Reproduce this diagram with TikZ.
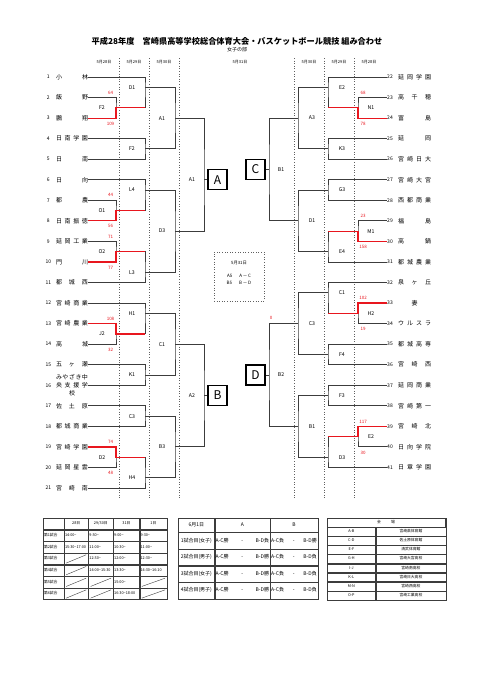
\documentclass[tikz,border=0pt]{standalone}
\usepackage{fontspec}
\setmainfont{Noto Sans CJK JP}
\usetikzlibrary{positioning,matrix}

\definecolor{bracket}{HTML}{3C3C3C}
\definecolor{winred}{HTML}{E8161E}
\definecolor{guidegray}{HTML}{606060}

% spread the characters of a school name over its box
\newcommand\spreadname[1]{\expandafter\spreadchars#1\relax}
\def\spreadchars#1#2{#1\ifx\relax#2\else\hfill\expandafter\spreadchars\expandafter#2\fi}
\newcommand\tld{\textasciitilde}
\newcommand\gm[3]{\makebox[#1]{A-C#2\hfill-\hfill B-D#3}}

\begin{document}
\begin{tikzpicture}[
    x=1pt, y=-1pt,
    link/.style={draw=bracket, line width=0.9pt},
    win/.style={draw=winred, line width=1.2pt},
    guide/.style={draw=guidegray, dotted, line width=0.6pt},
    frame/.style={draw=bracket, line width=0.8pt},
    team/.style={inner sep=0pt, font=\fontsize{6}{7}\selectfont},
    num/.style={inner sep=0pt, font=\fontsize{5}{6}\selectfont},
    lbl/.style={inner sep=0pt, font=\fontsize{5.2}{6}\selectfont},
    score/.style={inner sep=0pt, text=winred, font=\fontsize{4.5}{5}\selectfont},
    day/.style={inner sep=0pt, font=\fontsize{4}{5}\selectfont},
    grp/.style={draw=black, line width=1.3pt, minimum width=19pt,
        minimum height=20pt, inner sep=0pt, font=\fontsize{12}{13}\selectfont},
    cell/.style={draw=bracket, line width=0.4pt, inner sep=0.8pt, outer sep=0pt,
        align=left, text height=2.9pt, text depth=0.9pt,
        font=\fontsize{3.8}{4.2}\selectfont},
    diag/.style={path picture={\draw[line width=0.4pt]
        ([shift={(2pt,1.5pt)}]path picture bounding box.south west) --
        ([shift={(-2pt,-1.5pt)}]path picture bounding box.north east);}},
    tbl/.style={matrix of nodes, nodes in empty cells, inner sep=0pt,
        outer sep=0pt, column sep=0pt, row sep=0pt, nodes={cell}}
]
\useasboundingbox (0,0) rectangle (481,680);

% ---------------- TITLE ----------------
\node[inner sep=0pt, font=\bfseries\fontsize{8.2}{10}\selectfont] (title) at (237,41)
    {平成28年度　宮崎県高等学校総合体育大会・バスケットボール競技 組み合わせ};
\node[inner sep=0pt, font=\fontsize{5}{6}\selectfont] (sub) at (237,49.5) {女子の部};

\foreach \dx/\dt [count=\i] in {104/5月28日, 134/5月29日, 164/5月30日, 240/5月31日,
    309/5月30日, 339/5月29日, 369/5月28日}
    \node[day] (day\i) at (\dx,62) {\dt};

\foreach \gx in {119,149,179,294,324,354}
    \draw[guide] (\gx,58) -- (\gx,498);

% ---------------- TEAMS ----------------
\foreach \k/\nm in {1/小林,2/飯野,3/鵬翔,4/日南学園,5/日南,6/日向,7/都農,8/日南振徳,
    9/延岡工業,10/門川,11/都城西,12/宮崎商業,13/宮崎農業,14/高城,15/五ヶ瀬,
    16/央支援学,17/佐土原,18/都城商業,19/宮崎学園,20/延岡星雲,21/宮崎南}{
    \pgfmathsetmacro\yy{77+(\k-1)*20.55}
    \node[num] (n\k) at (48.3,\yy) {\k};
    \node[team] (t\k) at (72,\yy) {\makebox[32pt]{\spreadname{\nm}}};
}
\node[team] (t16a) at (72,377) {\makebox[32pt]{\spreadname{みやざき中}}};
\node[team] (t16c) at (72,393) {校};

\foreach \k/\nm in {22/延岡学園,23/高千穂,24/富島,25/延岡,26/宮崎日大,27/宮崎大宮,
    28/西都商業,29/福島,30/高鍋,31/都城農業,32/泉ヶ丘,33/妻,34/ウルスラ,
    35/都城高専,36/宮崎西,37/延岡商業,38/宮崎第一,39/宮崎北,40/日向学院,41/日章学園}{
    \pgfmathsetmacro\yy{77+(\k-22)*20.55}
    \node[num] (n\k) at (390,\yy) {\k};
    \node[team] (t\k) at (414.5,\yy) {\makebox[33pt]{\spreadname{\nm}}};
}

% ---------------- LEFT BRACKET ----------------
\coordinate (F2a) at (116,107.8);
\coordinate (D1a) at (145,87.3);
\coordinate (F2b) at (145,148.9);
\coordinate (A1a) at (175,118.1);
\coordinate (O1) at (116,210.6);
\coordinate (L4) at (145,190.0);
\coordinate (O2) at (116,251.7);
\coordinate (L3) at (145,272.2);
\coordinate (D3a) at (175,231.1);
\coordinate (A1b) at (204,179.8);
\coordinate (J2) at (116,333.9);
\coordinate (H1) at (145,313.3);
\coordinate (K1) at (145,375.0);
\coordinate (C1a) at (175,344.2);
\coordinate (C3a) at (145,416.1);
\coordinate (D2) at (116,457.2);
\coordinate (H4) at (145,477.7);
\coordinate (B3) at (175,446.9);
\coordinate (A2) at (204,395.5);

\node[grp] (grpA) at (217.5,179.8) {A};
\node[grp] (grpB) at (217.5,395.5) {B};

\draw[link] (t2.east) -| (F2a) |- (t3.east);
\draw[link] (t1.east) -| (D1a) |- (F2a);
\draw[link] (t4.east) -| (F2b) |- (t5.east);
\draw[link] (D1a) -| (A1a) |- (F2b);
\draw[link] (t7.east) -| (O1) |- (t8.east);
\draw[link] (t6.east) -| (L4) |- (O1);
\draw[link] (t9.east) -| (O2) |- (t10.east);
\draw[link] (O2) -| (L3) |- (t11.east);
\draw[link] (L4) -| (D3a) |- (L3);
\draw[link] (A1a) -| (A1b) |- (D3a);
\draw[link] (A1b) -- (grpA);
\draw[link] (t13.east) -| (J2) |- (t14.east);
\draw[link] (t12.east) -| (H1) |- (J2);
\draw[link] (t15.east) -| (K1) |- (t16.east);
\draw[link] (H1) -| (C1a) |- (K1);
\draw[link] (t17.east) -| (C3a) |- (t18.east);
\draw[link] (t19.east) -| (D2) |- (t20.east);
\draw[link] (D2) -| (H4) |- (t21.east);
\draw[link] (C3a) -| (B3) |- (H4);
\draw[link] (C1a) -| (A2) |- (B3);
\draw[link] (A2) -- (grpB);

\draw[win] (t3.east) -| (F2a) -- (F2a -| D1a);
\draw[win] (t8.east) -| (O1) -- (O1 -| L4);
\draw[win] (t10.east) -| (O2) -- (O2 -| L3);
\draw[win] (t13.east) -| (J2) -- (J2 -| H1);
\draw[win] (t19.east) -| (D2) -- (D2 -| H4);

\node[lbl] (lF2a) at ([xshift=-14pt]F2a) {F2};
\node[lbl] (lO1) at ([xshift=-14pt]O1) {O1};
\node[lbl] (lO2) at ([xshift=-14pt]O2) {O2};
\node[lbl] (lJ2) at ([xshift=-14pt]J2) {J2};
\node[lbl] (lD2) at ([xshift=-14pt]D2) {D2};
\node[lbl] (lD1a) at ([xshift=-13pt]D1a) {D1};
\node[lbl] (lF2b) at ([xshift=-13pt]F2b) {F2};
\node[lbl] (lL4) at ([xshift=-13pt]L4) {L4};
\node[lbl] (lL3) at ([xshift=-13pt]L3) {L3};
\node[lbl] (lH1) at ([xshift=-13pt]H1) {H1};
\node[lbl] (lK1) at ([xshift=-13pt]K1) {K1};
\node[lbl] (lC3a) at ([xshift=-13pt]C3a) {C3};
\node[lbl] (lH4) at ([xshift=-13pt]H4) {H4};
\node[lbl] (lA1a) at ([xshift=-13pt]A1a) {A1};
\node[lbl] (lD3a) at ([xshift=-13pt]D3a) {D3};
\node[lbl] (lC1a) at ([xshift=-13pt]C1a) {C1};
\node[lbl] (lB3) at ([xshift=-13pt]B3) {B3};
\node[lbl] (lA1b) at ([xshift=-12pt]A1b) {A1};
\node[lbl] (lA2) at ([xshift=-12pt]A2) {A2};

\node[score] (s2) at (110.5,92.5) {64};
\node[score] (s3) at (110.5,123.6) {109};
\node[score] (s7) at (110.5,195.3) {44};
\node[score] (s8) at (110.5,226.3) {56};
\node[score] (s9) at (110.5,236.4) {71};
\node[score] (s10) at (110.5,267.4) {77};
\node[score] (s13) at (110.5,318.6) {108};
\node[score] (s14) at (110.5,349.6) {32};
\node[score] (s19) at (110.5,441.9) {74};
\node[score] (s20) at (110.5,472.9) {48};

% ---------------- RIGHT BRACKET ----------------
\coordinate (N1) at (358,107.8);
\coordinate (E2a) at (328,87.3);
\coordinate (K3) at (328,148.9);
\coordinate (A3) at (298,118.1);
\coordinate (B1a) at (269,169.5);
\coordinate (G3) at (328,190.0);
\coordinate (M1) at (358,231.1);
\coordinate (E4) at (328,251.7);
\coordinate (D1b) at (298,220.9);
\coordinate (H2) at (358,313.3);
\coordinate (C1b) at (328,292.8);
\coordinate (F4) at (328,354.4);
\coordinate (C3b) at (298,323.6);
\coordinate (B2) at (269,375.0);
\coordinate (F3) at (328,395.5);
\coordinate (E2b) at (358,436.6);
\coordinate (D3b) at (328,457.2);
\coordinate (B1b) at (298,426.4);

\node[grp] (grpC) at (255.5,169.5) {C};
\node[grp] (grpD) at (255.5,375.0) {D};

\draw[link] (n23.west) -| (N1) |- (n24.west);
\draw[link] (n22.west) -| (E2a) |- (N1);
\draw[link] (n25.west) -| (K3) |- (n26.west);
\draw[link] (E2a) -| (A3) |- (K3);
\draw[link] (n27.west) -| (G3) |- (n28.west);
\draw[link] (n29.west) -| (M1) |- (n30.west);
\draw[link] (M1) -| (E4) |- (n31.west);
\draw[link] (G3) -| (D1b) |- (E4);
\draw[link] (A3) -| (B1a) |- (D1b);
\draw[link] (B1a) -- (grpC);
\draw[link] (n33.west) -| (H2) |- (n34.west);
\draw[link] (n32.west) -| (C1b) |- (H2);
\draw[link] (n35.west) -| (F4) |- (n36.west);
\draw[link] (C1b) -| (C3b) |- (F4);
\draw[link] (n37.west) -| (F3) |- (n38.west);
\draw[link] (n39.west) -| (E2b) |- (n40.west);
\draw[link] (E2b) -| (D3b) |- (n41.west);
\draw[link] (F3) -| (B1b) |- (D3b);
\draw[link] (C3b) -| (B2) |- (B1b);
\draw[link] (B2) -- (grpD);

\draw[win] (n24.west) -| (N1) -- (N1 -| E2a);
\draw[win] (n30.west) -| (M1) -- (M1 -| E4);
\draw[win] (n33.west) -| (H2) -- (H2 -| C1b);
\draw[win] (n39.west) -| (E2b) -- (E2b -| D3b);

\node[lbl] (lN1) at ([xshift=13pt]N1) {N1};
\node[lbl] (lM1) at ([xshift=13pt]M1) {M1};
\node[lbl] (lH2) at ([xshift=13pt]H2) {H2};
\node[lbl] (lE2b) at ([xshift=13pt]E2b) {E2};
\node[lbl] (lE2a) at ([xshift=14pt]E2a) {E2};
\node[lbl] (lK3) at ([xshift=14pt]K3) {K3};
\node[lbl] (lG3) at ([xshift=14pt]G3) {G3};
\node[lbl] (lE4) at ([xshift=14pt]E4) {E4};
\node[lbl] (lC1b) at ([xshift=14pt]C1b) {C1};
\node[lbl] (lF4) at ([xshift=14pt]F4) {F4};
\node[lbl] (lF3) at ([xshift=14pt]F3) {F3};
\node[lbl] (lD3b) at ([xshift=14pt]D3b) {D3};
\node[lbl] (lA3) at ([xshift=14pt]A3) {A3};
\node[lbl] (lD1b) at ([xshift=14pt]D1b) {D1};
\node[lbl] (lC3b) at ([xshift=14pt]C3b) {C3};
\node[lbl] (lB1b) at ([xshift=14pt]B1b) {B1};
\node[lbl] (lB1a) at ([xshift=12pt]B1a) {B1};
\node[lbl] (lB2) at ([xshift=12pt]B2) {B2};

\node[score] (s23) at (363,92.5) {68};
\node[score] (s24) at (363,123.6) {78};
\node[score] (s29) at (363,215.9) {23};
\node[score] (s30) at (363,246.9) {158};
\node[score] (s33) at (363,298) {102};
\node[score] (s34) at (363,329.1) {19};
\node[score] (s39) at (363,421.4) {117};
\node[score] (s40) at (363,452.4) {30};
\node[score] (sD) at (271,318) {0};

% ---------------- FINAL DAY ----------------
\node[draw=guidegray, dotted, line width=0.6pt, minimum width=50pt,
    minimum height=49pt] (final) at (239,276.5) {};
\node[day, font=\fontsize{4.3}{5}\selectfont] (fday) at (239,262.5) {5月31日};
\node[day, align=center, font=\fontsize{4.5}{7}\selectfont] (fgames) at (239,279.3)
    {A5\hspace{7pt}A\,－\,C\\B5\hspace{7pt}B\,－\,D};

% ---------------- TABLES ----------------
\matrix (times) [tbl, anchor=north west,
    nodes={minimum height=11.29pt},
    column 1/.style={nodes={text width=19pt}},
    column 2/.style={nodes={text width=22.4pt}},
    column 3/.style={nodes={text width=22.8pt}},
    column 4/.style={nodes={text width=24.4pt}},
    column 5/.style={nodes={text width=25.7pt}},
    row 1/.style={nodes={align=center}}] at (43,518) {
      & 28日 & 29/30日 & 31日 & 1日 \\
    第1試合 & 14:00\tld & 9:30\tld & 9:00\tld & 9:30\tld \\
    第2試合 & 15:30\tld 17:00 & 11:00\tld & 10:30\tld & 11:00\tld \\
    第3試合 & |[diag]| & 12:30\tld & 12:00\tld & 12:30\tld \\
    第4試合 & |[diag]| & 14:00\tld 15:30 & 13:30\tld & 14:30\tld 16:10 \\
    第5試合 & |[diag]| & |[diag]| & 15:00\tld & |[diag]| \\
    第6試合 & |[diag]| & |[diag]| & 16:30\tld 18:00 & |[diag]| \\
};
\draw[frame] (times.north west) rectangle (times.south east);

\matrix (games) [tbl, anchor=north west,
    nodes={minimum height=16.25pt, text height=3.7pt, text depth=1.1pt,
        font=\fontsize{5}{6}\selectfont},
    column 1/.style={nodes={text width=34.7pt, align=center}},
    column 2/.style={nodes={text width=53.4pt}},
    column 3/.style={nodes={text width=45.8pt}},
    row 1/.style={nodes={minimum height=14pt, align=center}}] at (178,518) {
    6月1日 & A & B \\
    1試合目(女子) & \gm{53.4pt}{勝}{負} & \gm{45.8pt}{負}{勝} \\
    2試合目(男子) & \gm{53.4pt}{勝}{勝} & \gm{45.8pt}{負}{負} \\
    3試合目(女子) & \gm{53.4pt}{勝}{勝} & \gm{45.8pt}{負}{負} \\
    4試合目(男子) & \gm{53.4pt}{勝}{勝} & \gm{45.8pt}{負}{負} \\
};
\draw[frame] (games.north west) rectangle (games.south east);

\node[cell, text width=116.4pt, align=center, minimum height=8.78pt,
    anchor=north west] (venhead) at (327,518) {会\hspace{10pt}場};
\matrix (venue) [tbl, anchor=north west,
    nodes={minimum height=8.78pt, align=center},
    column 1/.style={nodes={text width=46.7pt}},
    column 2/.style={nodes={text width=68.4pt}}] at (venhead.south west) {
    A-B & 宮崎県体育館 \\
    C-D & 佐土原体育館 \\
    E-F & 清武体育館 \\
    G-H & 宮崎大宮高校 \\
    I-J & 宮崎南高校 \\
    K-L & 宮崎日大高校 \\
    M-N & 宮崎西高校 \\
    O-P & 宮崎工業高校 \\
};
\draw[frame] (venhead.north west) rectangle (venue.south east);

\end{tikzpicture}
\end{document}
